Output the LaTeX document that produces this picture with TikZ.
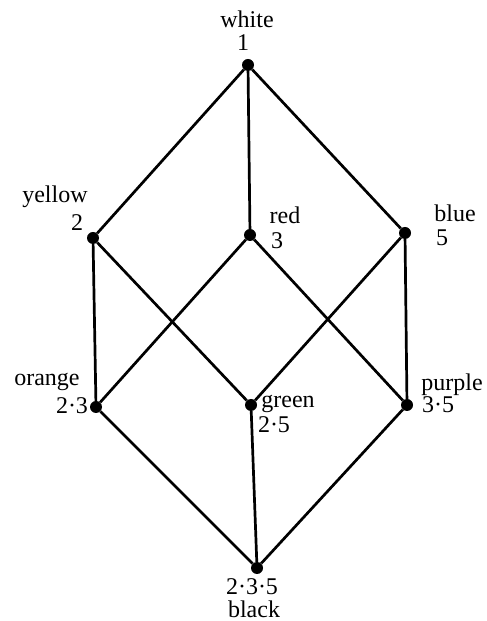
\documentclass[tikz,border=0pt]{standalone}
\usepackage{fontspec}
\setmainfont{Liberation Serif}
\usepackage{tikz}
\usetikzlibrary{positioning}

\begin{document}
\begin{tikzpicture}[
    x=1pt, y=1pt,
    vert/.style={circle, fill, inner sep=0pt, minimum size=12pt},
    tag/.style={inner sep=0pt, font=\fontsize{24}{25}\selectfont},
    edge/.style={line width=2.7pt},
]
\useasboundingbox (0,0) rectangle (487,621);

% elements of the lattice
\node[vert] (white)  at (248,556) {};
\node[vert] (yellow) at (93,383) {};
\node[vert] (red)    at (250,386) {};
\node[vert] (blue)   at (405,388) {};
\node[vert] (orange) at (96,214) {};
\node[vert] (green)  at (251,216) {};
\node[vert] (purple) at (407,216) {};
\node[vert] (black)  at (257,53) {};

% names and numbers
\node[tag] (white-n)  at (247,602) {white};
\node[tag] (white-v)  at (243,578) {1};
\node[tag] (yellow-n) at (55,424) {yellow};
\node[tag] (yellow-v) at (77,398) {2};
\node[tag] (red-n)    at (285,406) {red};
\node[tag] (red-v)    at (277,380) {3};
\node[tag] (blue-n)   at (455,408) {blue};
\node[tag] (blue-v)   at (442,383) {5};
\node[tag] (orange-n) at (47,239) {orange};
\node[tag] (orange-v) at (72,215) {2·3};
\node[tag] (green-n)  at (288,217) {green};
\node[tag] (green-v)  at (274,196) {2·5};
\node[tag] (purple-n) at (452,236) {purple};
\node[tag] (purple-v) at (438,216) {3·5};
\node[tag] (black-v)  at (252,34) {2·3·5};
\node[tag] (black-n)  at (254,12) {black};

% covering relations
\draw[edge] (white) -- (yellow);
\draw[edge] (white) -- (red);
\draw[edge] (white) -- (blue);
\draw[edge] (yellow) -- (orange);
\draw[edge] (yellow) -- (green);
\draw[edge] (red) -- (orange);
\draw[edge] (red) -- (purple);
\draw[edge] (blue) -- (green);
\draw[edge] (blue) -- (purple);
\draw[edge] (orange) -- (black);
\draw[edge] (green) -- (black);
\draw[edge] (purple) -- (black);
\end{tikzpicture}
\end{document}
